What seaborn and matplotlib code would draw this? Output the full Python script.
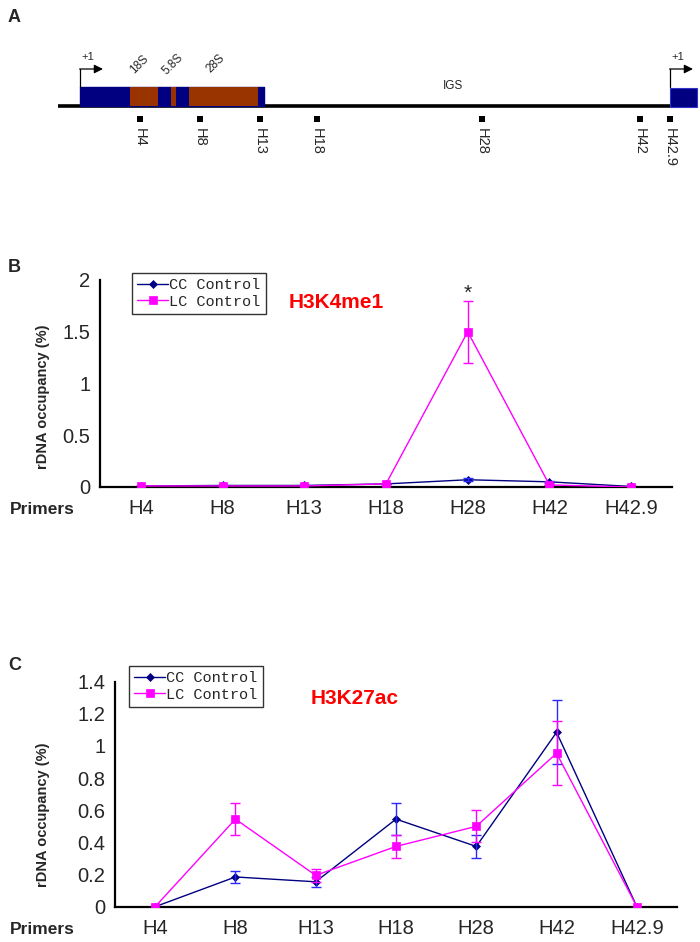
import numpy as np
import pandas as pd
import matplotlib
matplotlib.use("Agg")
import matplotlib.pyplot as plt
import seaborn as sns

# ---- data -------------------------------------------------------------
primers = ["H4", "H8", "H13", "H18", "H28", "H42", "H42.9"]

# panel B : H3K4me1
b_cc = [0.01, 0.015, 0.015, 0.03, 0.07, 0.05, 0.005]
b_cc_err = [0.0, 0.0, 0.0, 0.0, 0.015, 0.01, 0.0]
b_lc = [0.01, 0.01, 0.01, 0.03, 1.50, 0.02, 0.0]
b_lc_err = [0.0, 0.0, 0.0, 0.0, 0.30, 0.0, 0.0]

# panel C : H3K27ac
c_cc = [0.0, 0.185, 0.155, 0.545, 0.375, 1.085, 0.0]
c_cc_err = [0.0, 0.035, 0.03, 0.10, 0.07, 0.20, 0.0]
c_lc = [0.0, 0.545, 0.195, 0.375, 0.50, 0.955, 0.0]
c_lc_err = [0.0, 0.10, 0.04, 0.07, 0.10, 0.20, 0.0]

# schematic (panel A), in map units along the rDNA repeat
primer_map = [140, 200, 260, 317, 482, 640, 670]
backbone = (58, 670)
unit_left = (80, 264)
rrna_names = ["18S", "5.8S", "28S"]
rrna_start = [130, 171, 189]
rrna_end = [158, 176, 258]
rrna_label_x = [139, 173, 216]
unit_right = (670, 697)

groups = ["CC Control", "LC Control"]
palette = {"CC Control": "#000080", "LC Control": "#ff00ff"}
err_colors = ["#2a2aff", "#ff00ff"]

# ---- style -------------------------------------------------------------
sns.set_style("white")
plt.rcParams["font.family"] = ["Liberation Sans", "DejaVu Sans"]

W, H = 700, 942
fig = plt.figure(figsize=(W / 100, H / 100), dpi=100)


def fx(px):
    return px / W


def fy(py):
    return 1 - py / H


# ---- panel A: schematic ------------------------------------------------
axA = fig.add_axes([0, fy(180), 1, 180 / H])
axA.set_xlim(0, W)
axA.set_ylim(180, 0)
axA.axis("off")

axA.plot(backbone, [105.5, 105.5], color="black", lw=2.6, solid_capstyle="butt", zorder=1)
axA.broken_barh([(unit_left[0], unit_left[1] - unit_left[0])], (87, 19),
                facecolor="#000080", edgecolor="#000080", zorder=2)
axA.broken_barh([(s, e - s) for s, e in zip(rrna_start, rrna_end)], (87, 19),
                facecolor="#993300", edgecolor="none", zorder=3)
axA.broken_barh([(unit_right[0], unit_right[1] - unit_right[0])], (88, 19),
                facecolor="#000080", edgecolor="#3333cc", lw=0.8, zorder=2)

for x0 in (unit_left[0], unit_right[0]):
    axA.plot([x0, x0], [87, 69], color="black", lw=0.9)
    axA.annotate("", xy=(x0 + 23, 69), xytext=(x0 - 0.4, 69),
                 arrowprops=dict(arrowstyle="-|>", color="black", lw=0.9,
                                 mutation_scale=13, shrinkA=0, shrinkB=0))
    axA.text(x0 + 8, 57, "+1", fontsize=8, ha="center", va="center")

for name, x in zip(rrna_names, rrna_label_x):
    axA.text(x, 64, name, fontsize=8.5, rotation=45, ha="center", va="center")
axA.text(453, 86, "IGS", fontsize=8.5, ha="center", va="center")

axA.scatter(primer_map, [119] * len(primer_map), marker="s", s=16, color="black", linewidths=0)
for name, x in zip(primers, primer_map):
    axA.text(x, 128, name, fontsize=10.5, rotation=270, ha="center", va="top")

fig.text(fx(8), fy(18), "A", fontsize=13, fontweight="bold", ha="left", va="center")


# ---- panels B and C ----------------------------------------------------
def draw_panel(rect, cc, cc_err, lc, lc_err, ymax, ystep, letter, title, title_xy,
               legend_xy, letter_y, ylabel_y, primers_y):
    ax = fig.add_axes(rect)
    df = pd.DataFrame({
        "primer": primers * 2,
        "value": cc + lc,
        "group": [groups[0]] * len(primers) + [groups[1]] * len(primers),
    })
    sns.lineplot(data=df, x="primer", y="value", hue="group", style="group",
                 hue_order=groups, style_order=groups, palette=palette,
                 markers={groups[0]: "D", groups[1]: "s"}, dashes=False,
                 sort=False, lw=1.0, legend=False, ax=ax)
    handles = list(ax.lines[:2])
    for line, ms in zip(handles, [4.0, 6.0]):
        line.set_markersize(ms)
        line.set_markeredgecolor(line.get_color())
        line.set_markeredgewidth(0.5)
    handles[1].set_zorder(3)

    pos = np.arange(len(primers))
    for vals, errs, col in zip([cc, lc], [cc_err, lc_err], err_colors):
        ax.errorbar(pos, vals, yerr=errs, fmt="none", ecolor=col,
                    elinewidth=1.0, capsize=3.5, capthick=1.0, zorder=2)

    ax.set_xlim(-0.5, len(primers) - 0.5)
    ax.set_ylim(0, ymax)
    ax.set_xlabel("")
    ax.set_ylabel("")
    ax.set_xticks(pos)
    ax.set_xticklabels(primers)
    ax.set_xticks(np.arange(0.5, len(primers), 1.0), minor=True)
    ax.set_yticks(np.arange(0, ymax + ystep / 2, ystep))
    ax.yaxis.set_major_formatter(plt.FuncFormatter(lambda v, _: f"{v:g}"))
    ax.tick_params(axis="x", which="major", length=0, pad=9, labelsize=14.5)
    ax.tick_params(axis="x", which="minor", direction="in", length=7, width=1.5)
    ax.tick_params(axis="y", direction="in", length=7, width=1.5, pad=7, labelsize=14.5)
    sns.despine(ax=ax)
    for s in ("left", "bottom"):
        ax.spines[s].set_linewidth(1.6)
        ax.spines[s].set_color("black")

    leg = ax.legend(handles, groups, loc="upper left",
                    bbox_to_anchor=(fx(legend_xy[0]), fy(legend_xy[1])),
                    bbox_transform=fig.transFigure, borderaxespad=0,
                    prop={"family": "Liberation Mono", "size": 11},
                    frameon=True, fancybox=False, edgecolor="black",
                    handlelength=2.0, handletextpad=0.1, borderpad=0.35,
                    labelspacing=0.15)
    leg.get_frame().set_linewidth(1.0)

    fig.text(fx(title_xy[0]), fy(title_xy[1]), title, color="#ff0000",
             fontsize=15, fontweight="bold", ha="left", va="center")
    fig.text(fx(43), fy(ylabel_y), "rDNA occupancy (%)", rotation=90,
             fontsize=10.5, fontweight="bold", ha="center", va="center")
    fig.text(fx(10), fy(primers_y), "Primers", fontsize=12.5,
             fontweight="bold", ha="left", va="center")
    fig.text(fx(8), fy(letter_y), letter, fontsize=13,
             fontweight="bold", ha="left", va="center")
    return ax


axB = draw_panel([fx(100), fy(487), fx(672) - fx(100), (487 - 280) / H],
                 b_cc, b_cc_err, b_lc, b_lc_err, 2.0, 0.5, "B", "H3K4me1",
                 (289, 303), (132, 273), 268, 397, 510)
axB.text(4, 1.87, "*", fontsize=15, ha="center", va="center")

axC = draw_panel([fx(115), fy(906.7), fx(677) - fx(115), (906.7 - 681.7) / H],
                 c_cc, c_cc_err, c_lc, c_lc_err, 1.4, 0.2, "C", "H3K27ac",
                 (311, 698), (129, 666), 665, 815, 930)

fig.savefig("out.png", dpi=100)
